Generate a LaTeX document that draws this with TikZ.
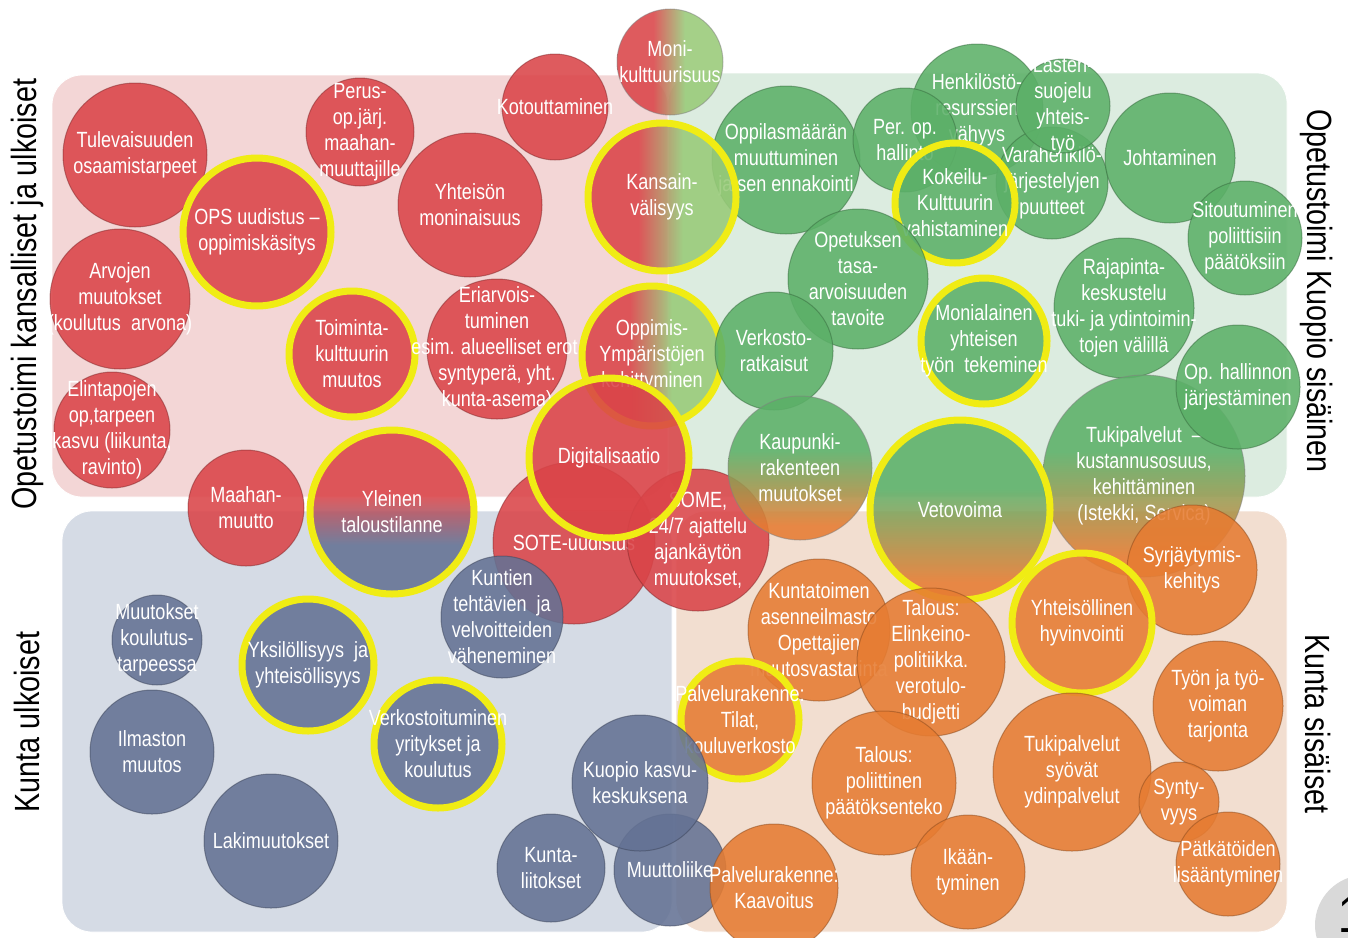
\documentclass[tikz,border=0pt]{standalone}
\usepackage{fontspec}
\setmainfont{Liberation Sans}[FakeStretch=0.82]
\usepackage{tikz}

\definecolor{bubred}{RGB}{218,68,72}
\definecolor{bubgreen}{RGB}{92,176,104}
\definecolor{limegreen}{RGB}{152,202,120}
\definecolor{bubblue}{RGB}{100,114,148}
\definecolor{bubora}{RGB}{230,124,50}
\definecolor{ringyellow}{RGB}{240,236,20}
\definecolor{panred}{RGB}{243,214,214}
\definecolor{pangreen}{RGB}{220,236,224}
\definecolor{panblue}{RGB}{213,219,229}
\definecolor{panora}{RGB}{242,222,208}
\definecolor{pggray}{RGB}{217,217,217}

\pgfdeclarehorizontalshading{redgreen}{100bp}{color(0bp)=(bubred); color(42bp)=(bubred); color(57bp)=(limegreen); color(100bp)=(limegreen)}
\pgfdeclareverticalshading{bluered}{100bp}{color(0bp)=(bubblue); color(40bp)=(bubblue); color(55bp)=(bubred); color(100bp)=(bubred)}
\pgfdeclareverticalshading{orangegreen}{100bp}{color(0bp)=(bubora); color(30bp)=(bubora); color(56bp)=(bubgreen); color(100bp)=(bubgreen)}

\newcommand{\bubfont}{\fontsize{11}{13}\selectfont}
\newcommand{\sidefont}{\fontsize{17.5}{20}\selectfont}
\newcommand{\bubble}[5][]{%
  \node[bub=#3,#1] (#2) at (#4) {};
  \node[txt] (#2-txt) at (#2) {#5};}

\begin{document}
\begin{tikzpicture}[x=0.5pt, y=-0.5pt,
    bub/.style={circle, minimum size=#1pt, inner sep=0pt, fill opacity=0.88, draw opacity=0.5, line width=0.5pt},
    redb/.style={fill=bubred, draw=bubred!60!black},
    greenb/.style={fill=bubgreen, draw=bubgreen!60!black},
    blueb/.style={fill=bubblue, draw=bubblue!60!black},
    orab/.style={fill=bubora, draw=bubora!60!black},
    redgreenb/.style={shade, shading=redgreen, draw=black!50},
    redblueb/.style={shade, shading=bluered, draw=black!50},
    greenorab/.style={shade, shading=orangegreen, draw=black!50},
    yring/.style={draw=ringyellow, line width=3.5pt, draw opacity=1},
    txt/.style={text=white, align=center, font=\bubfont, inner sep=0pt},
    sidelbl/.style={text=black, font=\sidefont, inner sep=0pt}]
  \useasboundingbox (0,0) rectangle (1348,937);
  \clip (0,0) rectangle (1348,937);

  % panels
  \fill[pangreen, draw=white, rounded corners=15pt] (668,73) rectangle (1287,497);
  \fill[panred, draw=white, rounded corners=15pt] (52,75) rectangle (668,497);
  \fill[panblue, draw=white, rounded corners=15pt] (62,511) rectangle (672,932);
  \fill[panora, draw=white, rounded corners=15pt] (676,511) rectangle (1287,932);

  \node[sidelbl, rotate=90] (lbl-ok) at (27,294) {Opetustoimi kansalliset ja ulkoiset};
  \node[sidelbl, rotate=90] (lbl-ku) at (27,722) {Kunta ulkoiset};
  \node[sidelbl, rotate=-90] (lbl-os) at (1317,291) {Opetustoimi Kuopio sisäinen};
  \node[sidelbl, rotate=-90] (lbl-ks) at (1318,724) {Kunta sisäiset};

  % opetustoimi, ulkoiset
  \bubble[redb]{tul}{72}{135,155}{Tulevaisuuden\\osaamistarpeet}
  \bubble[redb]{arv}{70}{120,299}{Arvojen\\muutokset\\(koulutus\ \ arvona)}
  \bubble[redb,yring]{ops}{74}{257,232}{OPS uudistus –\\oppimiskäsitys}
  \bubble[redb]{per}{54}{360,132}{Perus-\\op.järj.\\maahan-\\muuttajille}
  \bubble[redb]{yht}{72}{470,205}{Yhteisön\\moninaisuus}
  \bubble[redb]{kot}{53}{555,107}{Kotouttaminen}
  \bubble[redgreenb]{mon}{53}{670,62}{Moni-\\kulttuurisuus}
  \bubble[redb]{eli}{58}{112,430}{Elintapojen\\op,tarpeen\\kasvu (liikunta,\\ravinto)}
  \bubble[redb,yring]{toi}{63}{352,354}{Toiminta-\\kulttuurin\\muutos}
  \bubble[redb]{eri}{70}{497,349}{Eriarvois-\\tuminen\\esim. alueelliset erot,\\syntyperä, yht.\\kunta-asema)}
  \bubble[redb]{maa}{58}{246,508}{Maahan-\\muutto}
  \bubble[redblueb,yring]{yle}{82}{392,512}{Yleinen\\taloustilanne}

  % opetustoimi, sisainen
  \bubble[greenb]{opl}{74}{786,160}{Oppilasmäärän\\muuttuminen\\ja sen ennakointi}
  \bubble[greenb]{hen}{66}{977,110}{Henkilöstö-\\resurssien\\vähyys}
  \bubble[greenb]{pop}{52}{905,140}{Per. op.\\hallinto}
  \bubble[greenb]{var}{56}{1052,183}{Varahenkilö-\\järjestelyjen\\puutteet}
  \bubble[greenb]{las}{47}{1063,106}{Lasten-\\suojelu\\yhteis-\\työ}
  \bubble[greenb]{joh}{65}{1170,158}{Johtaminen}
  \bubble[greenb]{sit}{57}{1245,238}{Sitoutuminen\\poliittisiin\\päätöksiin}
  \bubble[greenb,yring]{kok}{60}{955,203}{Kokeilu-\\Kulttuurin\\vahistaminen}
  \bubble[redgreenb,yring]{kan}{74}{662,197}{Kansain-\\välisyys}
  \bubble[greenb]{ope}{70}{858,279}{Opetuksen\\tasa-\\arvoisuuden\\tavoite}
  \bubble[greenb]{raj}{70}{1124,308}{Rajapinta-\\keskustelu\\tuki- ja ydintoimin-\\tojen välillä}
  \bubble[greenb,yring]{mua}{63}{984,341}{Monialainen\\yhteisen\\työn\ \ tekeminen}
  \bubble[greenorab]{tuk}{101}{1144,476}{Tukipalvelut\ \ –\\kustannusosuus,\\kehittäminen\\(Istekki, Servica)}
  \bubble[greenb]{oph}{62}{1238,387}{Op. hallinnon\\järjestäminen}
  \bubble[redgreenb,yring]{opp}{70}{652,356}{Oppimis-\\Ympäristöjen\\kehittyminen}
  \bubble[greenb]{ver}{59}{774,351}{Verkosto-\\ratkaisut}

  % keskella
  \bubble[redb]{sot}{81}{574,543}{SOTE-uudistus}
  \bubble[redb]{som}{71}{698,540}{SOME,\\24/7 ajattelu\\ajankäytön\\muutokset,}
  \bubble[redb,yring]{dig}{80}{609,458}{Digitalisaatio}
  \bubble[greenorab]{kau}{72}{800,468}{Kaupunki-\\rakenteen\\muutokset}
  \bubble[greenorab,yring]{vet}{90}{960,510}{Vetovoima}

  % kunta sisaiset
  \bubble[orab]{syr}{65}{1192,570}{Syrjäytymis-\\kehitys}
  \bubble[orab,yring]{yhh}{70}{1082,623}{Yhteisöllinen\\hyvinvointi}
  \bubble[orab]{kun}{71}{819,630}{Kuntatoimen\\asenneilmasto\\Opettajien\\muutosvastarinta}
  \bubble[orab]{tae}{74}{931,662}{Talous:\\Elinkeino-\\politiikka.\\verotulo-\\budjetti}
  \bubble[orab,yring]{pti}{59}{740,720}{Palvelurakenne:\\Tilat,\\kouluverkosto}
  \bubble[orab]{tap}{72}{884,783}{Talous:\\poliittinen\\päätöksenteko}
  \bubble[orab]{tsy}{79}{1072,772}{Tukipalvelut\\syövät\\ydinpalvelut}
  \bubble[orab]{tyo}{65}{1218,706}{Työn ja työ-\\voiman\\tarjonta}
  \bubble[orab]{syn}{40}{1179,802}{Synty-\\vyys}
  \bubble[orab]{pat}{52}{1228,864}{Pätkätöiden\\lisääntyminen}
  \bubble[orab]{ika}{57}{968,872}{Ikään-\\tyminen}

  % kunta ulkoiset
  \bubble[blueb]{mkt}{45}{157,640}{Muutokset\\koulutus-\\tarpeessa}
  \bubble[blueb,yring]{yks}{66}{308,665}{Yksilöllisyys\ \ ja\\yhteisöllisyys}
  \bubble[blueb]{ilm}{62}{152,752}{Ilmaston\\muutos}
  \bubble[blueb,yring]{vrk}{64}{438,744}{Verkostoituminen\\yritykset ja\\koulutus}
  \bubble[blueb]{lak}{67}{271,841}{Lakimuutokset}
  \bubble[blueb]{kte}{61}{502,617}{Kuntien\\tehtävien\ \ ja\\velvoitteiden\\väheneminen}
  \bubble[blueb]{kli}{54}{551,868}{Kunta-\\liitokset}
  \bubble[blueb]{mli}{56}{670,870}{Muuttoliike}
  \bubble[blueb]{kks}{68}{640,783}{Kuopio kasvu-\\keskuksena}
  \bubble[orab]{pka}{64}{774,888}{Palvelurakenne:\\Kaavoitus}

  \node[circle, fill=pggray, minimum size=50pt] (pg) at (1365,925) {};
  \node[anchor=base west, inner sep=0pt, font=\fontsize{26}{28}\selectfont] (pg-num) at (1338,932) {1};
\end{tikzpicture}
\end{document}
